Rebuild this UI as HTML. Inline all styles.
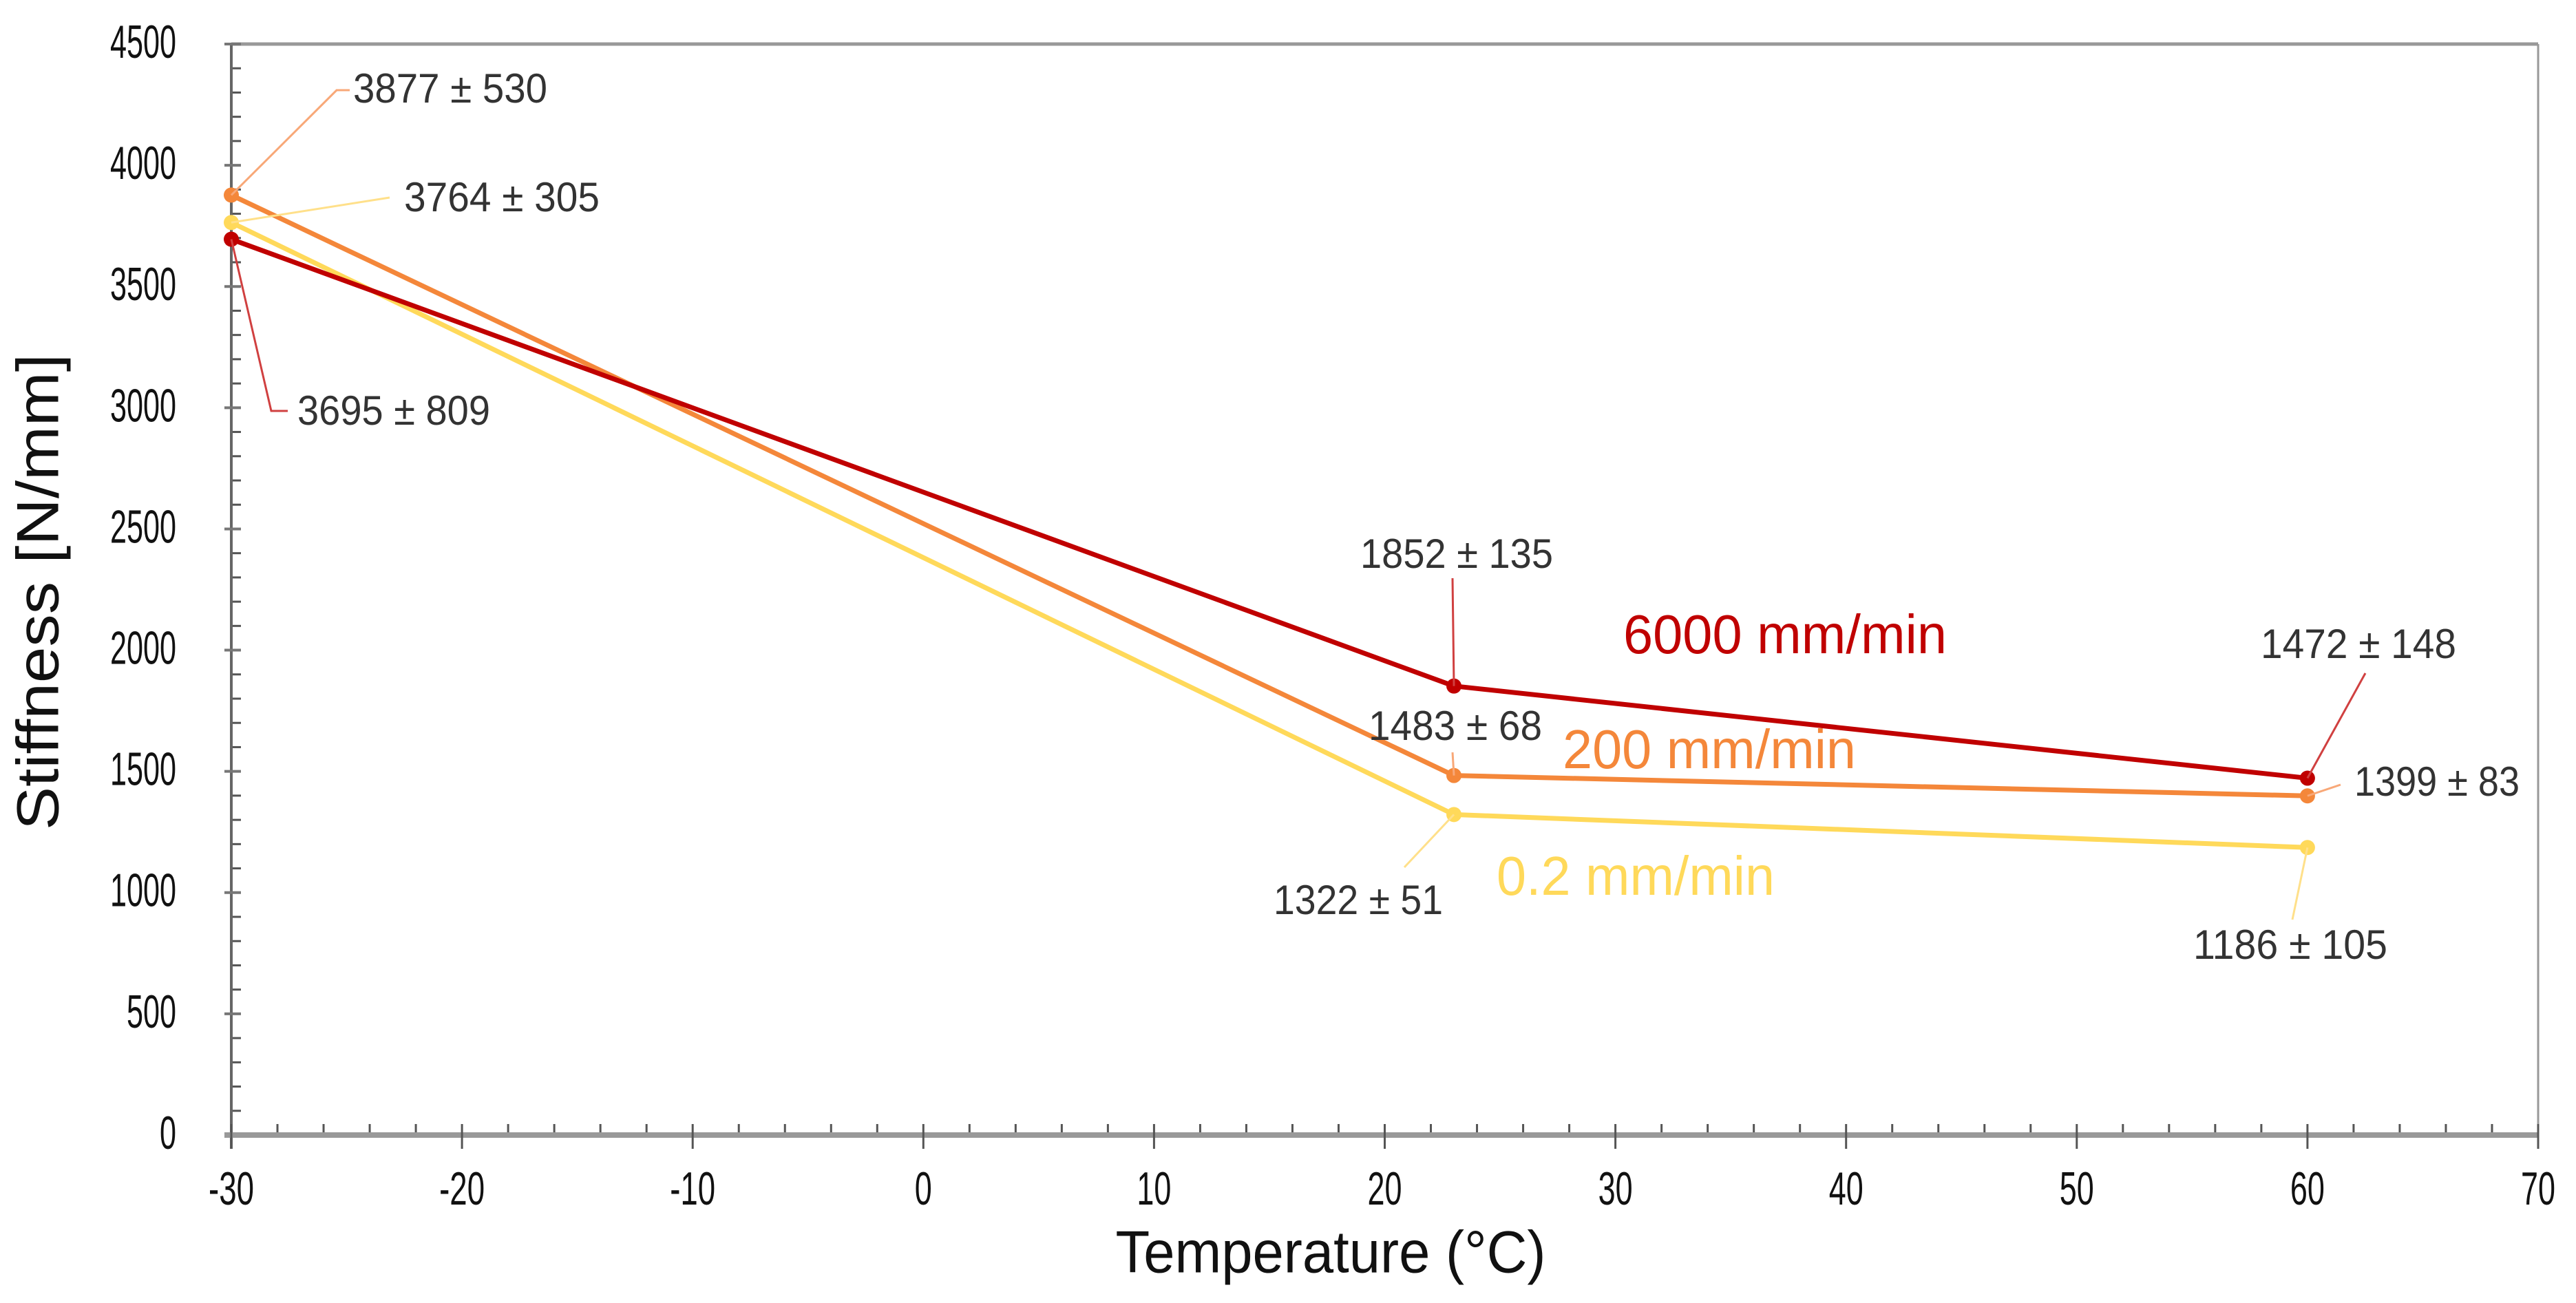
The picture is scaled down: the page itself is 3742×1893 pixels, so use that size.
<!DOCTYPE html>
<html><head><meta charset="utf-8"><style>
html,body{margin:0;padding:0;background:#fff}
svg{display:block}
text{font-family:"Liberation Sans Narrow","Liberation Sans",sans-serif}
</style></head><body>
<svg id="chart" width="3742" height="1893" viewBox="0 0 3742 1893" xmlns="http://www.w3.org/2000/svg">
<g id="axes"></g>
<g id="series"></g>
<g id="labels"></g>
<text x="0" y="0" transform="translate(62,860) rotate(-90)" text-anchor="middle" dominant-baseline="middle" font-size="86" fill="#111" textLength="692" lengthAdjust="spacingAndGlyphs">Stiffness [N/mm]</text>
<text x="1933" y="1826" text-anchor="middle" dominant-baseline="middle" font-size="86" fill="#111" textLength="625" lengthAdjust="spacingAndGlyphs">Temperature (°C)</text>
</svg>
<script>
const temps = [-30, 23, 60];
const s6000 = [3695, 1852, 1472];
const s200 = [3877, 1483, 1399];
const s02 = [3764, 1322, 1186];
const err6000 = [809, 135, 148];
const err200 = [530, 68, 83];
const err02 = [305, 51, 105];
const xTicks = [-30, -20, -10, 0, 10, 20, 30, 40, 50, 60, 70];
const yTicks = [0, 500, 1000, 1500, 2000, 2500, 3000, 3500, 4000, 4500];

const NS = 'http://www.w3.org/2000/svg';
const X0 = 336, X1 = 3687, Y0 = 1649, Y1 = 64;
function xs(t){ return X0 + (t + 30) / 100 * (X1 - X0); }
function ys(v){ return Y0 - v / 4500 * (Y0 - Y1); }
function mk(tag, attrs, parent){ const e = document.createElementNS(NS, tag); for (const k in attrs) e.setAttribute(k, attrs[k]); parent.appendChild(e); return e; }

const axes = document.getElementById('axes');
let el = mk('line', {x1:X0, y1:Y1, x2:X1, y2:Y1, stroke:'#999', 'stroke-width':5}, axes);


el = mk('line', {x1:X1, y1:Y1, x2:X1, y2:Y0, stroke:'#999', 'stroke-width':3}, axes);


for (let v = 0; v <= 4500; v += 100) {
  if (v % 500 === 0) continue;
  el = mk('line', {x1:X0, y1:ys(v), x2:X0 + 14, y2:ys(v), stroke:'#555', 'stroke-width':3}, axes);
  
  
}
for (let t = -30; t <= 70; t += 2) {
  if (t % 10 === 0) continue;
  el = mk('line', {x1:xs(t), y1:Y0, x2:xs(t), y2:Y0 - 16, stroke:'#555', 'stroke-width':3}, axes);
  
  
}
el = mk('line', {x1:X0, y1:Y1, x2:X0, y2:Y0 + 20, stroke:'#666', 'stroke-width':4}, axes);


yTicks.forEach(v => {
  el = mk('line', {x1:X0 - 10, y1:ys(v), x2:X0 + 14, y2:ys(v), stroke:'#777', 'stroke-width':4}, axes);
  
  
  const s = String(v);
  el = mk('text', {x:256, y:ys(v) + 2, 'text-anchor':'end', 'dominant-baseline':'middle', 'font-size':68, fill:'#111', textLength:s.length * 24, lengthAdjust:'spacingAndGlyphs'}, axes);
  
  
  el.textContent = s;
});
el = mk('line', {x1:X0 - 10, y1:Y0, x2:X1, y2:Y0, stroke:'#999', 'stroke-width':8}, axes);


xTicks.forEach(t => {
  el = mk('line', {x1:xs(t), y1:Y0 - 16, x2:xs(t), y2:Y0 + 20, stroke:'#555', 'stroke-width':3}, axes);
  
  
  const s = String(t);
  const w = s.replace('-', '').length * 25 + (s[0] === '-' ? 16 : 0);
  el = mk('text', {x:xs(t), y:1732, 'text-anchor':'middle', 'dominant-baseline':'middle', 'font-size':68, fill:'#111', textLength:w, lengthAdjust:'spacingAndGlyphs'}, axes);
  
  
  el.textContent = s;
});

const series = document.getElementById('series');
const defs = [
  {name:'0.2-mm-min', vals:s02, color:'#FFD95A'},
  {name:'200-mm-min', vals:s200, color:'#F4873A'},
  {name:'6000-mm-min', vals:s6000, color:'#C00000'}
];
defs.forEach(d => {
  const pts = temps.map((t, i) => xs(t) + ',' + ys(d.vals[i])).join(' ');
  el = mk('polyline', {points:pts, fill:'none', stroke:d.color, 'stroke-width':7, 'stroke-linejoin':'round'}, series);
  
  
  temps.forEach((t, i) => {
    el = mk('circle', {cx:xs(t), cy:ys(d.vals[i]), r:11, fill:d.color}, series);
    
    
  });
});

const labels = document.getElementById('labels');
const ann = [
  {v:s200, e:err200, i:0, c:'#F8A878', lx:513, ly:131, w:282, path:[[489,131],[508,131]]},
  {v:s02, e:err02, i:0, c:'#FFE08A', lx:587, ly:289, w:284, path:[[566,287]]},
  {v:s6000, e:err6000, i:0, c:'#D04040', lx:432, ly:599, w:280, path:[[394,597],[418,597]]},
  {v:s6000, e:err6000, i:1, c:'#D04040', lx:1976, ly:807, w:280, path:[[2110,840]]},
  {v:s200, e:err200, i:1, c:'#F8A878', lx:1988, ly:1057, w:252, path:[[2110,1093]]},
  {v:s02, e:err02, i:1, c:'#FFE08A', lx:1850, ly:1310, w:246, path:[[2040,1260]]},
  {v:s6000, e:err6000, i:2, c:'#D04040', lx:3284, ly:938, w:284, path:[[3436,978]]},
  {v:s200, e:err200, i:2, c:'#F8A878', lx:3420, ly:1138, w:240, path:[[3400,1140]]},
  {v:s02, e:err02, i:2, c:'#FFE08A', lx:3186, ly:1375, w:282, path:[[3330,1336]]}
];
ann.forEach(a => {
  const px = xs(temps[a.i]), py = ys(a.v[a.i]);
  const pts = [[px, py]].concat(a.path).map(p => p.join(',')).join(' ');
  el = mk('polyline', {points:pts, fill:'none', stroke:a.c, 'stroke-width':3}, labels);
  
  
  el = mk('text', {x:a.lx, y:a.ly + 2, 'dominant-baseline':'middle', 'font-size':60, fill:'#333', textLength:a.w, lengthAdjust:'spacingAndGlyphs'}, labels);
  
  
  el.textContent = a.v[a.i] + ' ± ' + a.e[a.i];
});

const sl = [
  {t:'6000 mm/min', c:'#C00000', x:2358, y:926, w:470},
  {t:'200 mm/min', c:'#F4873A', x:2270, y:1093, w:426},
  {t:'0.2 mm/min', c:'#FFD95A', x:2174, y:1277, w:404}
];
sl.forEach(s => {
  el = mk('text', {x:s.x, y:s.y + 2, 'dominant-baseline':'middle', 'font-size':80, fill:s.c, textLength:s.w, lengthAdjust:'spacingAndGlyphs'}, labels);
  
  
  el.textContent = s.t;
});
</script>
</body></html>
